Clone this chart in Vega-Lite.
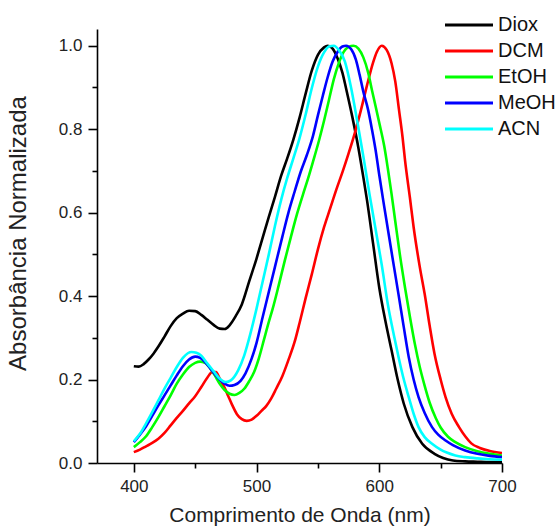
{
  "$schema": "https://vega.github.io/schema/vega-lite/v6.json",
  "width": 405,
  "height": 434,
  "autosize": {"type": "none"},
  "padding": {"left": 97, "top": 29, "right": 57, "bottom": 65},
  "background": "white",
  "config": {
    "view": {"stroke": null},
    "font": "Liberation Sans",
    "axis": {
      "domainColor": "black",
      "domainWidth": 1.6,
      "tickColor": "black",
      "tickWidth": 1.6,
      "labelColor": "#222",
      "titleColor": "#222",
      "labelFont": "Liberation Sans",
      "titleFont": "Liberation Sans",
      "labelFontSize": 17,
      "titleFontSize": 21,
      "titleFontWeight": "normal",
      "grid": false
    }
  },
  "data": {
    "values": [
      {"s":"Diox","x":400,"y":0.232},{"s":"Diox","x":404,"y":0.231},{"s":"Diox","x":408,"y":0.237},{"s":"Diox","x":412,"y":0.248},{"s":"Diox","x":416,"y":0.262},{"s":"Diox","x":420,"y":0.279},{"s":"Diox","x":425,"y":0.303},{"s":"Diox","x":430,"y":0.328},{"s":"Diox","x":435,"y":0.347},{"s":"Diox","x":440,"y":0.358},{"s":"Diox","x":445,"y":0.365},{"s":"Diox","x":450,"y":0.364},{"s":"Diox","x":455,"y":0.355},{"s":"Diox","x":460,"y":0.343},{"s":"Diox","x":465,"y":0.331},{"s":"Diox","x":470,"y":0.322},{"s":"Diox","x":474,"y":0.321},{"s":"Diox","x":478,"y":0.33},{"s":"Diox","x":483,"y":0.352},{"s":"Diox","x":488,"y":0.38},{"s":"Diox","x":494,"y":0.435},{"s":"Diox","x":500,"y":0.49},{"s":"Diox","x":505,"y":0.54},{"s":"Diox","x":510,"y":0.59},{"s":"Diox","x":515,"y":0.638},{"s":"Diox","x":520,"y":0.688},{"s":"Diox","x":525,"y":0.73},{"s":"Diox","x":530,"y":0.775},{"s":"Diox","x":535,"y":0.827},{"s":"Diox","x":540,"y":0.885},{"s":"Diox","x":545,"y":0.94},{"s":"Diox","x":550,"y":0.978},{"s":"Diox","x":555,"y":0.996},{"s":"Diox","x":558,"y":1.0},{"s":"Diox","x":562,"y":0.993},{"s":"Diox","x":566,"y":0.97},{"s":"Diox","x":570,"y":0.935},{"s":"Diox","x":573,"y":0.897},{"s":"Diox","x":578,"y":0.83},{"s":"Diox","x":583,"y":0.755},{"s":"Diox","x":587,"y":0.685},{"s":"Diox","x":590,"y":0.63},{"s":"Diox","x":595,"y":0.525},{"s":"Diox","x":600,"y":0.42},{"s":"Diox","x":605,"y":0.34},{"s":"Diox","x":610,"y":0.27},{"s":"Diox","x":615,"y":0.2},{"s":"Diox","x":620,"y":0.142},{"s":"Diox","x":627,"y":0.086},{"s":"Diox","x":635,"y":0.046},{"s":"Diox","x":645,"y":0.022},{"s":"Diox","x":652,"y":0.012},{"s":"Diox","x":660,"y":0.006},{"s":"Diox","x":670,"y":0.004},{"s":"Diox","x":680,"y":0.003},{"s":"Diox","x":690,"y":0.002},{"s":"Diox","x":700,"y":0.002},

      {"s":"DCM","x":400,"y":0.026},{"s":"DCM","x":405,"y":0.032},{"s":"DCM","x":410,"y":0.04},{"s":"DCM","x":415,"y":0.048},{"s":"DCM","x":420,"y":0.058},{"s":"DCM","x":425,"y":0.072},{"s":"DCM","x":430,"y":0.09},{"s":"DCM","x":435,"y":0.108},{"s":"DCM","x":440,"y":0.125},{"s":"DCM","x":445,"y":0.143},{"s":"DCM","x":450,"y":0.16},{"s":"DCM","x":455,"y":0.182},{"s":"DCM","x":460,"y":0.205},{"s":"DCM","x":464,"y":0.218},{"s":"DCM","x":467,"y":0.218},{"s":"DCM","x":470,"y":0.202},{"s":"DCM","x":474,"y":0.18},{"s":"DCM","x":477,"y":0.16},{"s":"DCM","x":480,"y":0.14},{"s":"DCM","x":484,"y":0.117},{"s":"DCM","x":488,"y":0.105},{"s":"DCM","x":492,"y":0.101},{"s":"DCM","x":496,"y":0.104},{"s":"DCM","x":500,"y":0.113},{"s":"DCM","x":504,"y":0.125},{"s":"DCM","x":508,"y":0.137},{"s":"DCM","x":512,"y":0.155},{"s":"DCM","x":516,"y":0.178},{"s":"DCM","x":521,"y":0.208},{"s":"DCM","x":526,"y":0.247},{"s":"DCM","x":531,"y":0.29},{"s":"DCM","x":535,"y":0.335},{"s":"DCM","x":540,"y":0.395},{"s":"DCM","x":545,"y":0.452},{"s":"DCM","x":550,"y":0.512},{"s":"DCM","x":555,"y":0.565},{"s":"DCM","x":560,"y":0.61},{"s":"DCM","x":565,"y":0.655},{"s":"DCM","x":570,"y":0.697},{"s":"DCM","x":575,"y":0.742},{"s":"DCM","x":580,"y":0.79},{"s":"DCM","x":585,"y":0.845},{"s":"DCM","x":590,"y":0.905},{"s":"DCM","x":595,"y":0.96},{"s":"DCM","x":598,"y":0.985},{"s":"DCM","x":602,"y":1.0},{"s":"DCM","x":606,"y":0.99},{"s":"DCM","x":610,"y":0.958},{"s":"DCM","x":613,"y":0.915},{"s":"DCM","x":616,"y":0.848},{"s":"DCM","x":619,"y":0.78},{"s":"DCM","x":621,"y":0.725},{"s":"DCM","x":625,"y":0.635},{"s":"DCM","x":628,"y":0.565},{"s":"DCM","x":633,"y":0.47},{"s":"DCM","x":637,"y":0.405},{"s":"DCM","x":641,"y":0.33},{"s":"DCM","x":645,"y":0.262},{"s":"DCM","x":650,"y":0.2},{"s":"DCM","x":654,"y":0.158},{"s":"DCM","x":659,"y":0.118},{"s":"DCM","x":665,"y":0.086},{"s":"DCM","x":670,"y":0.064},{"s":"DCM","x":675,"y":0.047},{"s":"DCM","x":682,"y":0.036},{"s":"DCM","x":690,"y":0.029},{"s":"DCM","x":700,"y":0.024},

      {"s":"EtOH","x":400,"y":0.038},{"s":"EtOH","x":405,"y":0.05},{"s":"EtOH","x":410,"y":0.064},{"s":"EtOH","x":415,"y":0.086},{"s":"EtOH","x":420,"y":0.11},{"s":"EtOH","x":425,"y":0.136},{"s":"EtOH","x":430,"y":0.162},{"s":"EtOH","x":435,"y":0.19},{"s":"EtOH","x":440,"y":0.212},{"s":"EtOH","x":445,"y":0.23},{"s":"EtOH","x":450,"y":0.24},{"s":"EtOH","x":454,"y":0.243},{"s":"EtOH","x":458,"y":0.24},{"s":"EtOH","x":462,"y":0.228},{"s":"EtOH","x":466,"y":0.21},{"s":"EtOH","x":470,"y":0.19},{"s":"EtOH","x":474,"y":0.175},{"s":"EtOH","x":478,"y":0.166},{"s":"EtOH","x":482,"y":0.163},{"s":"EtOH","x":486,"y":0.168},{"s":"EtOH","x":490,"y":0.178},{"s":"EtOH","x":494,"y":0.196},{"s":"EtOH","x":498,"y":0.218},{"s":"EtOH","x":502,"y":0.252},{"s":"EtOH","x":506,"y":0.295},{"s":"EtOH","x":510,"y":0.338},{"s":"EtOH","x":513,"y":0.368},{"s":"EtOH","x":518,"y":0.425},{"s":"EtOH","x":523,"y":0.485},{"s":"EtOH","x":528,"y":0.542},{"s":"EtOH","x":533,"y":0.597},{"s":"EtOH","x":538,"y":0.645},{"s":"EtOH","x":542,"y":0.682},{"s":"EtOH","x":546,"y":0.722},{"s":"EtOH","x":551,"y":0.774},{"s":"EtOH","x":555,"y":0.82},{"s":"EtOH","x":559,"y":0.87},{"s":"EtOH","x":563,"y":0.92},{"s":"EtOH","x":567,"y":0.958},{"s":"EtOH","x":571,"y":0.985},{"s":"EtOH","x":575,"y":0.997},{"s":"EtOH","x":579,"y":1.0},{"s":"EtOH","x":583,"y":0.993},{"s":"EtOH","x":587,"y":0.972},{"s":"EtOH","x":591,"y":0.935},{"s":"EtOH","x":594,"y":0.894},{"s":"EtOH","x":597,"y":0.855},{"s":"EtOH","x":600,"y":0.815},{"s":"EtOH","x":604,"y":0.76},{"s":"EtOH","x":607,"y":0.705},{"s":"EtOH","x":610,"y":0.645},{"s":"EtOH","x":613,"y":0.58},{"s":"EtOH","x":617,"y":0.495},{"s":"EtOH","x":621,"y":0.42},{"s":"EtOH","x":625,"y":0.35},{"s":"EtOH","x":629,"y":0.285},{"s":"EtOH","x":633,"y":0.23},{"s":"EtOH","x":637,"y":0.185},{"s":"EtOH","x":641,"y":0.145},{"s":"EtOH","x":646,"y":0.108},{"s":"EtOH","x":650,"y":0.085},{"s":"EtOH","x":656,"y":0.063},{"s":"EtOH","x":662,"y":0.05},{"s":"EtOH","x":670,"y":0.038},{"s":"EtOH","x":680,"y":0.028},{"s":"EtOH","x":690,"y":0.022},{"s":"EtOH","x":700,"y":0.018},

      {"s":"MeOH","x":400,"y":0.05},{"s":"MeOH","x":405,"y":0.068},{"s":"MeOH","x":410,"y":0.088},{"s":"MeOH","x":415,"y":0.113},{"s":"MeOH","x":420,"y":0.138},{"s":"MeOH","x":425,"y":0.162},{"s":"MeOH","x":430,"y":0.186},{"s":"MeOH","x":435,"y":0.21},{"s":"MeOH","x":440,"y":0.232},{"s":"MeOH","x":445,"y":0.248},{"s":"MeOH","x":450,"y":0.255},{"s":"MeOH","x":454,"y":0.252},{"s":"MeOH","x":458,"y":0.242},{"s":"MeOH","x":462,"y":0.228},{"s":"MeOH","x":466,"y":0.213},{"s":"MeOH","x":470,"y":0.2},{"s":"MeOH","x":474,"y":0.19},{"s":"MeOH","x":478,"y":0.185},{"s":"MeOH","x":482,"y":0.187},{"s":"MeOH","x":487,"y":0.197},{"s":"MeOH","x":491,"y":0.215},{"s":"MeOH","x":496,"y":0.25},{"s":"MeOH","x":500,"y":0.288},{"s":"MeOH","x":505,"y":0.35},{"s":"MeOH","x":510,"y":0.41},{"s":"MeOH","x":515,"y":0.47},{"s":"MeOH","x":521,"y":0.542},{"s":"MeOH","x":526,"y":0.6},{"s":"MeOH","x":531,"y":0.65},{"s":"MeOH","x":536,"y":0.698},{"s":"MeOH","x":541,"y":0.738},{"s":"MeOH","x":546,"y":0.784},{"s":"MeOH","x":550,"y":0.833},{"s":"MeOH","x":554,"y":0.88},{"s":"MeOH","x":558,"y":0.925},{"s":"MeOH","x":562,"y":0.962},{"s":"MeOH","x":566,"y":0.985},{"s":"MeOH","x":570,"y":0.998},{"s":"MeOH","x":573,"y":1.0},{"s":"MeOH","x":577,"y":0.992},{"s":"MeOH","x":581,"y":0.966},{"s":"MeOH","x":584,"y":0.93},{"s":"MeOH","x":587,"y":0.89},{"s":"MeOH","x":591,"y":0.845},{"s":"MeOH","x":594,"y":0.8},{"s":"MeOH","x":597,"y":0.75},{"s":"MeOH","x":600,"y":0.69},{"s":"MeOH","x":604,"y":0.615},{"s":"MeOH","x":608,"y":0.542},{"s":"MeOH","x":612,"y":0.47},{"s":"MeOH","x":616,"y":0.398},{"s":"MeOH","x":620,"y":0.325},{"s":"MeOH","x":624,"y":0.254},{"s":"MeOH","x":628,"y":0.2},{"s":"MeOH","x":632,"y":0.158},{"s":"MeOH","x":637,"y":0.12},{"s":"MeOH","x":643,"y":0.086},{"s":"MeOH","x":648,"y":0.068},{"s":"MeOH","x":654,"y":0.054},{"s":"MeOH","x":660,"y":0.043},{"s":"MeOH","x":670,"y":0.03},{"s":"MeOH","x":680,"y":0.022},{"s":"MeOH","x":690,"y":0.017},{"s":"MeOH","x":700,"y":0.014},

      {"s":"ACN","x":400,"y":0.052},{"s":"ACN","x":405,"y":0.07},{"s":"ACN","x":410,"y":0.095},{"s":"ACN","x":415,"y":0.122},{"s":"ACN","x":420,"y":0.15},{"s":"ACN","x":425,"y":0.178},{"s":"ACN","x":430,"y":0.204},{"s":"ACN","x":435,"y":0.23},{"s":"ACN","x":440,"y":0.252},{"s":"ACN","x":444,"y":0.263},{"s":"ACN","x":447,"y":0.266},{"s":"ACN","x":451,"y":0.264},{"s":"ACN","x":455,"y":0.257},{"s":"ACN","x":460,"y":0.238},{"s":"ACN","x":465,"y":0.22},{"s":"ACN","x":470,"y":0.202},{"s":"ACN","x":475,"y":0.194},{"s":"ACN","x":479,"y":0.198},{"s":"ACN","x":485,"y":0.222},{"s":"ACN","x":490,"y":0.258},{"s":"ACN","x":495,"y":0.31},{"s":"ACN","x":500,"y":0.37},{"s":"ACN","x":505,"y":0.435},{"s":"ACN","x":510,"y":0.5},{"s":"ACN","x":515,"y":0.568},{"s":"ACN","x":520,"y":0.63},{"s":"ACN","x":525,"y":0.683},{"s":"ACN","x":530,"y":0.73},{"s":"ACN","x":535,"y":0.778},{"s":"ACN","x":540,"y":0.835},{"s":"ACN","x":545,"y":0.898},{"s":"ACN","x":550,"y":0.95},{"s":"ACN","x":555,"y":0.984},{"s":"ACN","x":559,"y":0.998},{"s":"ACN","x":563,"y":1.0},{"s":"ACN","x":567,"y":0.99},{"s":"ACN","x":572,"y":0.962},{"s":"ACN","x":577,"y":0.9},{"s":"ACN","x":582,"y":0.82},{"s":"ACN","x":587,"y":0.735},{"s":"ACN","x":592,"y":0.645},{"s":"ACN","x":597,"y":0.56},{"s":"ACN","x":602,"y":0.475},{"s":"ACN","x":607,"y":0.38},{"s":"ACN","x":612,"y":0.305},{"s":"ACN","x":616,"y":0.25},{"s":"ACN","x":620,"y":0.2},{"s":"ACN","x":624,"y":0.158},{"s":"ACN","x":628,"y":0.118},{"s":"ACN","x":632,"y":0.086},{"s":"ACN","x":637,"y":0.062},{"s":"ACN","x":643,"y":0.046},{"s":"ACN","x":650,"y":0.032},{"s":"ACN","x":655,"y":0.025},{"s":"ACN","x":662,"y":0.018},{"s":"ACN","x":670,"y":0.014},{"s":"ACN","x":680,"y":0.011},{"s":"ACN","x":690,"y":0.009},{"s":"ACN","x":700,"y":0.008}
    ]
  },
  "mark": {"type": "line", "strokeWidth": 2.6, "clip": true, "interpolate": "monotone"},
  "encoding": {
    "x": {
      "field": "x",
      "type": "quantitative",
      "scale": {"domain": [370, 700], "nice": false, "zero": false},
      "axis": {
        "title": "Comprimento de Onda (nm)",
        "values": [400, 450, 500, 550, 600, 650, 700],
        "labelExpr": "datum.value % 100 === 0 ? datum.label : ''",
        "tickSize": {"condition": {"test": "datum.value % 100 === 0", "value": 9}, "value": 5},
        "labelPadding": 6,
        "titlePadding": 10,
        "labelFlush": false
      }
    },
    "y": {
      "field": "y",
      "type": "quantitative",
      "scale": {"domain": [0, 1.04], "nice": false, "zero": false},
      "axis": {
        "title": "Absorbância Normalizada",
        "titleFontSize": 24,
        "titleY": 204,
        "values": [0, 0.1, 0.2, 0.3, 0.4, 0.5, 0.6, 0.7, 0.8, 0.9, 1.0],
        "labelExpr": "round(datum.value * 10) % 2 === 0 ? format(datum.value, '.1f') : ''",
        "tickSize": {"condition": {"test": "round(datum.value * 10) % 2 === 0", "value": 9}, "value": 5},
        "labelPadding": 6,
        "titlePadding": 28,
        "labelFlush": false
      }
    },
    "color": {
      "field": "s",
      "type": "nominal",
      "sort": ["Diox", "DCM", "EtOH", "MeOH", "ACN"],
      "scale": {"domain": ["Diox", "DCM", "EtOH", "MeOH", "ACN"], "range": ["#000000", "#ff0000", "#00ff00", "#0000ff", "#00ffff"]},
      "legend": {
        "title": null,
        "orient": "none",
        "legendX": 362,
        "legendY": -14,
        "symbolType": "M-3,0H3",
        "symbolSize": 256,
        "symbolStrokeWidth": 3,
        "labelFontSize": 20,
        "labelFont": "Liberation Sans",
        "labelColor": "#111",
        "labelOffset": 19,
        "rowPadding": 6
      }
    }
  }
}
